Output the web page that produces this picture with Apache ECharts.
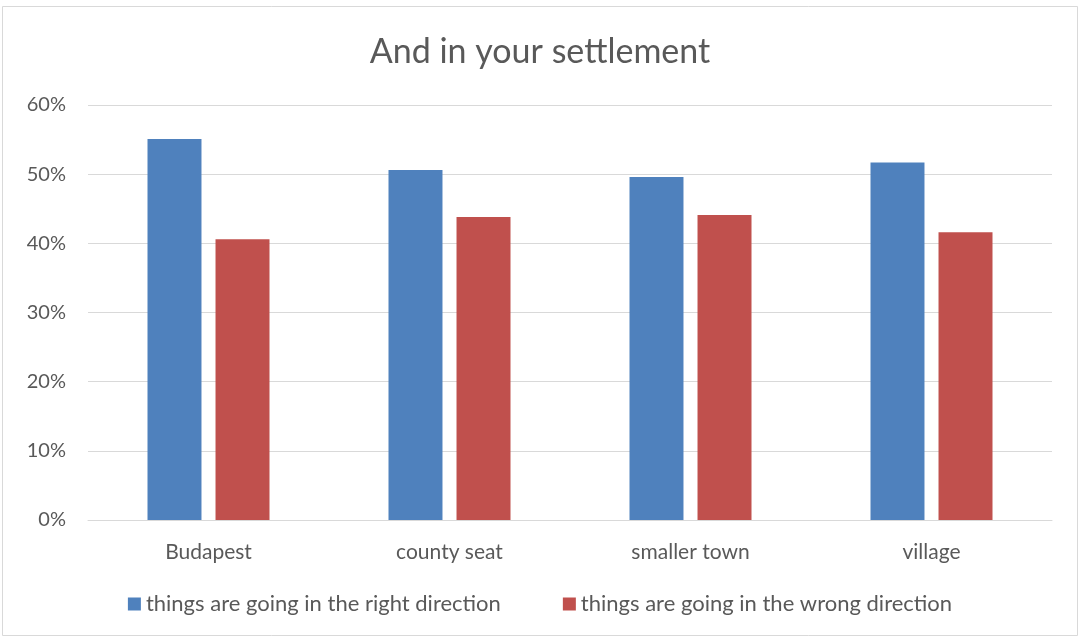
<!DOCTYPE html>
<html>
<head>
<meta charset="utf-8">
<script src="https://cdn.jsdelivr.net/npm/echarts@6/dist/echarts.min.js"></script>
<style>
html,body{margin:0;padding:0;background:#fff;}
#chart{width:1080px;height:638px;}
</style>
</head>
<body>
<div id="chart"></div>
<script>
const categories = ['Budapest', 'county seat', 'smaller town', 'village'];
const rightDirection = [55.1, 50.6, 49.6, 51.7];
const wrongDirection = [40.6, 43.8, 44.1, 41.6];
const seriesNames = ['things are going in the right direction', 'things are going in the wrong direction'];
const yTicks = [0, 10, 20, 30, 40, 50, 60];

const FONT = 'Lato, "Open Sans", sans-serif';
const chart = echarts.init(document.getElementById('chart'));
chart.setOption({
  animation: false,
  backgroundColor: '#ffffff',
  title: {
    text: 'And in your settlement',
    left: 'center',
    top: 30,
    textStyle: { fontFamily: FONT, fontSize: 34, fontWeight: 'normal', color: '#595959' }
  },
  graphic: [{
    type: 'rect',
    shape: { x: 2.5, y: 6.5, width: 1075, height: 629 },
    style: { fill: 'none', stroke: '#d9d9d9', lineWidth: 1 },
    silent: true
  }],
  legend: {
    data: seriesNames,
    bottom: 18,
    left: 'center',
    itemWidth: 13,
    itemHeight: 13,
    itemGap: 62,
    icon: 'rect',
    textStyle: { fontFamily: FONT, fontSize: 22, color: '#595959', padding: [0, 0, 0, 0] }
  },
  grid: { left: 88, right: 28, top: 105, bottom: 118 },
  xAxis: {
    type: 'category',
    data: categories,
    axisLine: { lineStyle: { color: '#d9d9d9', width: 1 } },
    axisTick: { show: false },
    axisLabel: { fontFamily: FONT, fontSize: 21, color: '#595959', margin: 22 }
  },
  yAxis: {
    type: 'value',
    min: yTicks[0],
    max: yTicks[yTicks.length - 1],
    interval: 10,
    axisLine: { show: false },
    axisTick: { show: false },
    splitLine: { lineStyle: { color: '#d9d9d9', width: 1 } },
    axisLabel: { fontFamily: FONT, fontSize: 20, color: '#595959', margin: 22, formatter: v => v + '%' }
  },
  series: [
    {
      name: seriesNames[0], type: 'bar', data: rightDirection,
      barWidth: '22.4%', barGap: '26%',
      itemStyle: { color: '#4f81bd' }
    },
    {
      name: seriesNames[1], type: 'bar', data: wrongDirection,
      barWidth: '22.4%', barGap: '26%',
      itemStyle: { color: '#c0504d' }
    }
  ]
});
</script>
</body>
</html>
